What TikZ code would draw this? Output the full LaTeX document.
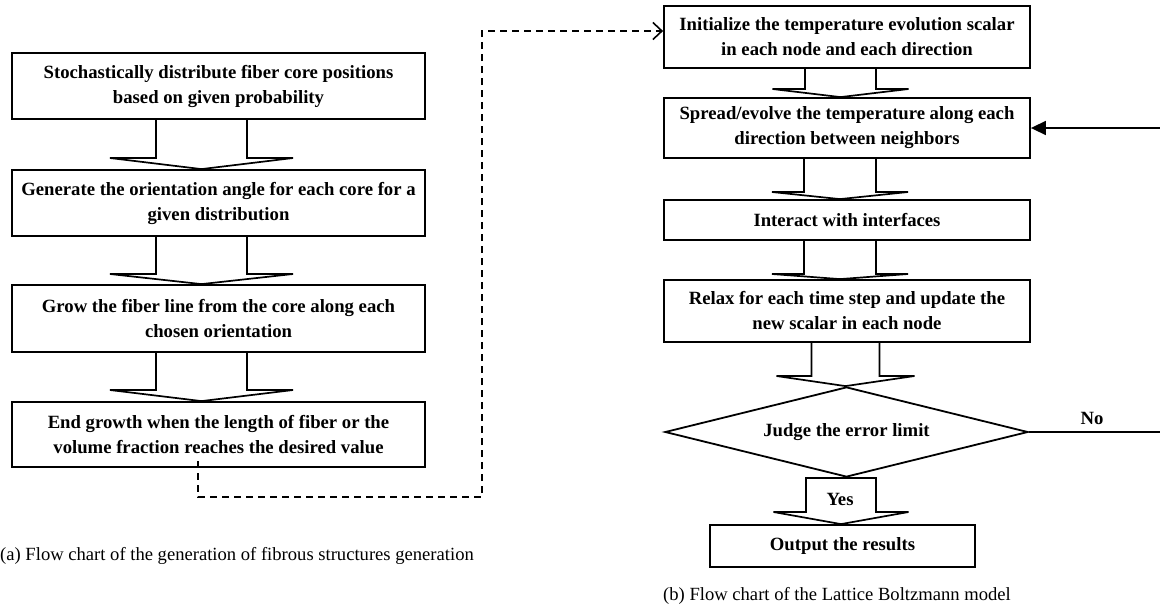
\documentclass[tikz,border=0pt]{standalone}
\usepackage{fontspec}
\setmainfont{Liberation Serif}
\usetikzlibrary{arrows.meta,calc,shapes.geometric}
% block arrow: #1 source node, #2 target node, #3 centre x, #4 stem half width, #5 wing half width, #6 wing y
\newcommand\barrow[6]{%
  \draw[blk] let \p1=(#1.south), \p2=(#2.north), \p3=(#3,#6) in
    ({\x3-#4pt},\y1) -- ({\x3-#4pt},\y3) -- ({\x3-#5pt},\y3) -- (\x3,\y2)
    -- ({\x3+#5pt},\y3) -- ({\x3+#4pt},\y3) -- ({\x3+#4pt},\y1);}
\begin{document}
\begin{tikzpicture}[x=1pt,y=-1pt,
  box/.style={draw,line width=1.8pt,inner sep=0pt,align=center,
    font=\bfseries\fontsize{18.7}{25}\selectfont},
  lbox/.style={box,minimum width=413pt},
  rbox/.style={box,minimum width=366pt},
  blk/.style={draw,line width=1.7pt,line join=miter},
  lbl/.style={font=\bfseries\fontsize{18.7}{22}\selectfont,inner sep=0pt},
  captext/.style={font=\fontsize{18.6}{22}\selectfont,anchor=west,inner sep=0pt},
  dsh/.style={line width=1.6pt,dash pattern=on 7pt off 5pt},
  conn/.style={line width=1.6pt}]
\fill[white] (0,0) rectangle (1160,614);
\useasboundingbox (0,0) rectangle (1160,614);

% ---- left chart ----
\node[lbox,minimum height=66pt] (B1) at (218.5,86)
  {Stochastically distribute fiber core positions\\based on given probability};
\node[lbox,minimum height=66pt] (B2) at (218.5,203)
  {Generate the orientation angle for each core for a\\given distribution};
\node[lbox,minimum height=67pt] (B3) at (218.5,318.5)
  {Grow the fiber line from the core along each\\chosen orientation};
\node[lbox,minimum height=65pt] (B4) at (218.5,434.5)
  {End growth when the length of fiber or the\\volume fraction reaches the desired value};

\barrow{B1}{B2}{201.5}{45.5}{91.5}{158}
\barrow{B2}{B3}{201.5}{45.5}{91.5}{274}
\barrow{B3}{B4}{201.5}{45.5}{91.5}{390}

% ---- right chart ----
\node[rbox,minimum height=62pt] (R1) at (847,37)
  {Initialize the temperature evolution scalar\\in each node and each direction};
\node[rbox,minimum height=60pt] (R2) at (847,128)
  {Spread/evolve the temperature along each\\direction between neighbors};
\node[rbox,minimum height=40pt] (R3) at (847,220)
  {Interact with interfaces};
\node[rbox,minimum height=62pt] (R4) at (847,311)
  {Relax for each time step and update the\\new scalar in each node};
\node[box,shape=diamond,aspect=4,minimum width=363pt,minimum height=90pt] (D) at (846.5,432)
  {Judge the error limit};
\node[box,minimum width=265pt,minimum height=42pt] (Out) at (842.5,546)
  {Output the results};

\barrow{R1}{R2}{840.5}{35.5}{68}{89}
\barrow{R2}{R3}{840}{36}{68}{192}
\barrow{R3}{R4}{840}{36}{68}{274}
\barrow{R4}{D}{845.5}{34}{69}{376}

% yes arrow (closed stem)
\draw[blk] let \p1=(D.south), \p2=(Out.north), \p3=(841,512) in
  ({\x3-35pt},\y1) -- ({\x3+35pt},\y1) -- ({\x3+35pt},\y3) -- ({\x3+67.5pt},\y3)
  -- (\x3,\y2) -- ({\x3-67.5pt},\y3) -- ({\x3-35pt},\y3) -- cycle;
\node[lbl] (yes) at (840,499) {Yes};

% feedback (No)
\coordinate (f1) at (1167,432);
\coordinate (f2) at (1167,128);
\draw[conn,-{Triangle[length=15pt,width=14pt]}] (D.east) -- (f1) -- (f2) -- (R2.east);
\node[lbl] (no) at (1092,418) {No};

% dashed link between the charts
\coordinate (d0) at (198,461);
\coordinate (d1) at (482,497);
\draw[dsh,-{Straight Barb[length=9pt,width=17pt]}] (d0) |- (d1) |- ($(R1.west)+(0,-6)$);

% captions
\node[captext] (capa) at (0,556) {(a) Flow chart of the generation of fibrous structures generation};
\node[captext] (capb) at (663,596) {(b) Flow chart of the Lattice Boltzmann model};
\end{tikzpicture}
\end{document}
